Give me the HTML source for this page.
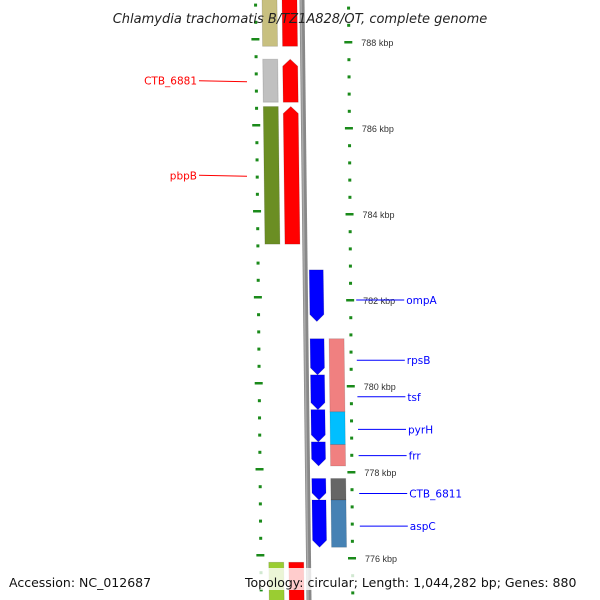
<!DOCTYPE html>
<html><head><meta charset="utf-8"><style>
html,body{margin:0;padding:0;background:#fff}
svg{display:block}
text{font-family:"Liberation Sans","DejaVu Sans",sans-serif}
</style></head><body>
<svg id="map" width="600" height="600" viewBox="0 0 600 600" xmlns="http://www.w3.org/2000/svg">
<g id="ticks"></g>
<line x1="302" y1="0" x2="309" y2="600" stroke="#888" stroke-width="5"/>
<line x1="301" y1="0" x2="308" y2="600" stroke="#aaa" stroke-width="1.5"/>
<g id="features"></g>
<g id="labels"></g>
<text x="300" y="23" text-anchor="middle" font-size="13" font-style="italic" fill="#222" style="font-family:'DejaVu Sans',sans-serif">Chlamydia trachomatis B/TZ1A828/OT, complete genome</text>
<rect x="243" y="568" width="350" height="22" fill="#fff" fill-opacity="0.8"/>
<text x="9" y="587" font-size="12.5" fill="#111" style="font-family:'DejaVu Sans',sans-serif">Accession: NC_012687</text>
<text x="245" y="587" font-size="12.5" fill="#111" style="font-family:'DejaVu Sans',sans-serif">Topology: circular; Length: 1,044,282 bp; Genes: 880</text>
</svg>
<script>
const majorTicks=[788,786,784,782,780,778,776];
const featStart=[789.0,787.6,786.5,782.7,781.1,780.26,779.45,778.7,777.85,777.35,789.0,787.6,786.5,781.1,779.4,778.64,777.85,777.35,775.9,775.9];
const featEnd=[787.9,786.6,783.3,781.5,780.26,779.45,778.7,778.14,777.35,776.25,787.9,786.6,783.3,779.4,778.64,778.14,777.35,776.25,774.8,774.8];
const featTrack=[0,0,0,2,2,2,2,2,2,2,1,1,1,3,3,3,3,3,0,1];
const featColor=["#c8c080","#c0c0c0","#6b8e23","#0000ff","#0000ff","#0000ff","#0000ff","#0000ff","#0000ff","#0000ff","#ff0000","#ff0000","#ff0000","#f08080","#00bfff","#f08080","#666666","#4682b4","#9acd32","#ff0000"];
const featArrow=[0,0,0,1,1,1,1,1,1,1,0,-1,-1,0,0,0,0,0,0,0];
const labelText=["CTB_6881","pbpB","ompA","rpsB","tsf","pyrH","frr","CTB_6811","aspC"];
const labelKbp=[787.1,784.9,782.0,780.6,779.75,778.99,778.38,777.5,776.74];
const labelSide=[-1,-1,1,1,1,1,1,1,1];
const NS="http://www.w3.org/2000/svg";
function yS(k){return 42+(788-k)*43;}
function slant(y){return y*0.012;}
const trackX=[262,282,306,325], trackW=[15,15,14,15];
const svg=document.getElementById('map');
const tg=document.getElementById('ticks');
for(let k=789.2;k>=774.6;k-=0.4){
  const y=yS(k); const maj=Math.abs(k-Math.round(k/2)*2)<0.05;
  const xr=348+slant(y)*0.6, xl=255+slant(y)*0.8;
  const t=document.createElementNS(NS,'rect');
  
  
  t.setAttribute('x',maj?xr-4:xr-1);t.setAttribute('y',y-1);t.setAttribute('width',maj?8:3);t.setAttribute('height',maj?2.5:3);t.setAttribute('fill','#1a8a1a');tg.appendChild(t);
  const t2=document.createElementNS(NS,'rect');
  
  
  t2.setAttribute('x',maj?xl-4:xl-1);t2.setAttribute('y',y-4);t2.setAttribute('width',maj?8:3);t2.setAttribute('height',maj?2.5:3);t2.setAttribute('fill','#1a8a1a');tg.appendChild(t2);
}
majorTicks.forEach(k=>{
  const y=yS(k);
  const tx=document.createElementNS(NS,'text');
  
  
  tx.setAttribute('x',361+slant(y)*0.6);tx.setAttribute('y',y+4);tx.setAttribute('font-size','9');tx.setAttribute('fill','#333');
  tx.textContent=k+' kbp';tg.appendChild(tx);
});
const fg=document.getElementById('features');
featStart.forEach((s,i)=>{
  let y1=yS(s),y2=yS(featEnd[i]);
  y1=Math.max(y1,-5);y2=Math.min(y2,605);
  const tr=featTrack[i];const w=trackW[tr];
  const x1=trackX[tr]+slant(y1), x2=trackX[tr]+slant(y2);
  let pts;
  const a=featArrow[i];
  if(a===1){pts=[[x1,y1],[x1+w,y1],[x2+w,y2-7],[x2+w/2,y2],[x2,y2-7]];}
  else if(a===-1){pts=[[x1+w/2,y1],[x1+w,y1+7],[x2+w,y2],[x2,y2],[x1,y1+7]];}
  else pts=[[x1,y1],[x1+w,y1],[x2+w,y2],[x2,y2]];
  const p=document.createElementNS(NS,'polygon');
  
  
  p.setAttribute('points',pts.map(q=>q.join(',')).join(' '));
  p.setAttribute('fill',featColor[i]);p.setAttribute('stroke','rgba(0,0,0,0.15)');p.setAttribute('stroke-width','0.8');
  fg.appendChild(p);
});
const lg=document.getElementById('labels');
labelText.forEach((t,i)=>{
  const y=yS(labelKbp[i]);
  const side=labelSide[i];
  const col=side<0?'#ff0000':'#0000ff';
  const l=document.createElementNS(NS,'line');
  
  
  if(side<0){l.setAttribute('x1',199);l.setAttribute('x2',247);}else{l.setAttribute('x1',355+i*0.6);l.setAttribute('x2',403+i*0.6);}
  l.setAttribute('y1',y);l.setAttribute('y2',y+(side<0?1:0));l.setAttribute('stroke',col);l.setAttribute('stroke-width','1');
  lg.appendChild(l);
  const tx=document.createElementNS(NS,'text');
  
  
  tx.setAttribute('x',side<0?197:405+i*0.6);tx.setAttribute('y',y+4);tx.setAttribute('font-size','10.5');tx.setAttribute('fill',col);
  tx.setAttribute('text-anchor',side<0?'end':'start');tx.setAttribute('style',"font-family:'DejaVu Sans',sans-serif");
  tx.textContent=t;lg.appendChild(tx);
});
</script>
</body></html>
